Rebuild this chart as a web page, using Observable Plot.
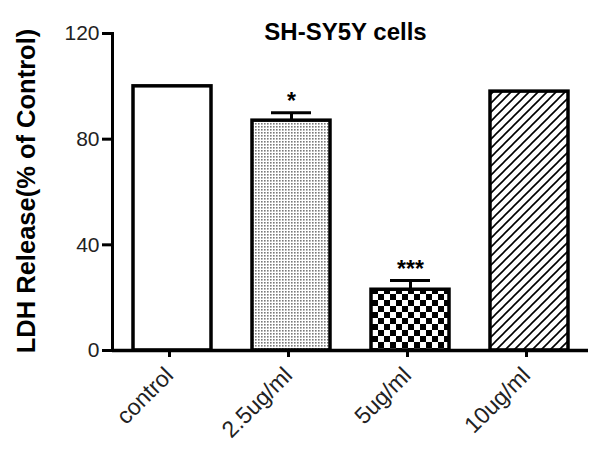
<!DOCTYPE html>
<html><head><meta charset="utf-8">
<script src="https://cdn.jsdelivr.net/npm/d3@7"></script>
<script src="https://cdn.jsdelivr.net/npm/@observablehq/plot@0.6"></script>
<style>body{margin:0;background:#fff}</style>
</head><body><div id="chart"></div>
<script>
const categories = ["control", "2.5ug/ml", "5ug/ml", "10ug/ml"];
const values = [100, 87, 23, 98];
const errors = [0, 3, 3.5, 0];
const stars = ["", "*", "***", ""];
const fills = ["white", "url(#dots)", "url(#checker)", "url(#hatch)"];
const yTicks = [0, 40, 80, 120];
const title = "SH-SY5Y cells";
const yLabel = "LDH Release(% of Control)";

const data = categories.map((c, i) => ({cat: c, value: values[i], err: errors[i], top: values[i] + errors[i], star: stars[i], fill: fills[i]}));
const errData = data.filter(d => d.err > 0);

const plot = Plot.plot({
  width: 601, height: 459,
  marginTop: 33, marginBottom: 109, marginLeft: 112, marginRight: 13,
  style: {fontFamily: "'Liberation Sans', Arial, sans-serif", background: "white", color: "black"},
  x: {domain: categories, paddingInner: 0.345, paddingOuter: 0.1725, label: null},
  y: {domain: [0, 120], label: null},
  color: {type: "identity"},
  marks: [
    Plot.barY(data, {x: "cat", y: "value", fill: "fill", stroke: "black", strokeWidth: 3.5}),
    Plot.ruleX(errData, {x: "cat", y1: "value", y2: "top", stroke: "black", strokeWidth: 3}),
    Plot.tickY(errData, {x: "cat", y: "top", stroke: "black", strokeWidth: 3, insetLeft: 19, insetRight: 19}),
    Plot.text(errData, {x: "cat", y: "top", text: "star", dy: -11, fontSize: 23, fontWeight: "bold"}),
    Plot.axisY({ticks: yTicks, tickSize: 10, tickPadding: 3, fontSize: 21, tickFormat: d => d, label: null, strokeWidth: 3, fill: "#222"}),
    Plot.axisX({tickSize: 7, tickRotate: -45, fontSize: 23, tickPadding: 14, dx: -3, label: null, strokeWidth: 3, fill: "#222"}),
    Plot.frame({anchor: "left", strokeWidth: 3}),
    Plot.ruleY([0], {strokeWidth: 3.5}),
    Plot.text([title], {frameAnchor: "top", lineAnchor: "middle", dx: -5, dy: -1, fontSize: 24, fontWeight: "bold"}),
    Plot.text([yLabel], {frameAnchor: "left", textAnchor: "middle", rotate: -90, dx: -86, dy: -1, fontSize: 25.5, fontWeight: "bold"})
  ]
});

const svg = d3.select(plot);
const defs = svg.insert("defs", ":first-child");
const dots = defs.append("pattern").attr("id", "dots").attr("patternUnits", "userSpaceOnUse").attr("width", 3).attr("height", 3);
dots.append("rect").attr("width", 3).attr("height", 3).attr("fill", "white");
dots.append("rect").attr("width", 1.6).attr("height", 1.6).attr("fill", "#7a7a7a");
const checker = defs.append("pattern").attr("id", "checker").attr("patternUnits", "userSpaceOnUse").attr("width", 12).attr("height", 12);
checker.append("rect").attr("width", 12).attr("height", 12).attr("fill", "white");
checker.append("rect").attr("width", 6).attr("height", 6).attr("fill", "black");
checker.append("rect").attr("x", 6).attr("y", 6).attr("width", 6).attr("height", 6).attr("fill", "black");
const hatch = defs.append("pattern").attr("id", "hatch").attr("patternUnits", "userSpaceOnUse").attr("width", 9).attr("height", 9);
hatch.append("rect").attr("width", 9).attr("height", 9).attr("fill", "white");
hatch.append("path").attr("d", "M-1,1 L1,-1 M0,9 L9,0 M8,10 L10,8").attr("stroke", "black").attr("stroke-width", 1.6);

document.getElementById("chart").appendChild(plot);
</script>
</body></html>
